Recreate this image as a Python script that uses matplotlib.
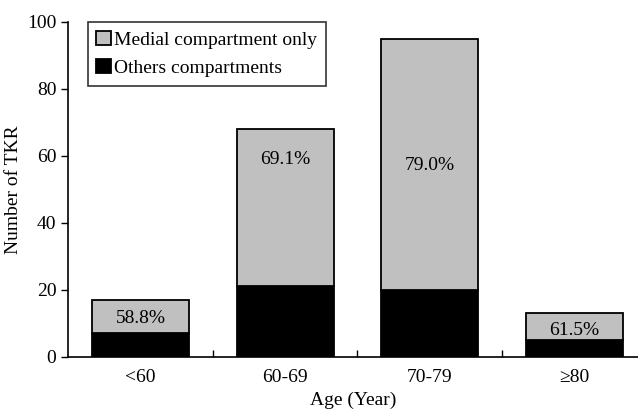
import numpy as np
import matplotlib
matplotlib.use('Agg')
import matplotlib.pyplot as plt

# data
ages = ['<60', '60-69', '70-79', '\u226580']
others = [7, 21, 20, 5]          # black, bottom part
medial = [10, 47, 75, 8]         # grey, stacked on top
pct_labels = ['58.8%', '69.1%', '79.0%', '61.5%']
pct_y = [11.5, 59, 57, 8]

plt.rcParams['font.family'] = ['Liberation Serif', 'DejaVu Serif']

fig = plt.figure(figsize=(6.38, 4.13), dpi=100)
ax = fig.add_axes([0.107, 0.136, 0.893, 0.811])

x = np.arange(len(ages))
w = 0.67
ax.bar(x, others, w, color='black', edgecolor='black', linewidth=1.3,
       label='Others compartments')
ax.bar(x, medial, w, bottom=others, color='#c0c0c0', edgecolor='black',
       linewidth=1.3, label='Medial compartment only')

for i in range(len(ages)):
    ax.text(x[i], pct_y[i], pct_labels[i], ha='center', va='center', fontsize=14)

ax.set_xlim(-0.5, 3.44)
ax.set_ylim(0, 100)
ax.set_yticks([0, 20, 40, 60, 80, 100])
ax.set_xticks(x)
ax.set_xticklabels(ages)
ax.set_xticks([0.5, 1.5, 2.5], minor=True)
ax.tick_params(axis='x', which='major', length=0, pad=9, labelsize=14)
ax.tick_params(axis='x', which='minor', direction='in', length=5, width=1)
ax.tick_params(axis='y', direction='out', length=5, width=1, labelsize=14)

ax.spines['top'].set_visible(False)
ax.spines['right'].set_visible(False)
ax.spines['left'].set_linewidth(1.2)
ax.spines['bottom'].set_linewidth(1.2)

ax.set_xlabel('Age (Year)', fontsize=14, labelpad=4)
ax.set_ylabel('Number of TKR', fontsize=14, labelpad=4)

h, l = ax.get_legend_handles_labels()
leg = ax.legend(h[::-1], l[::-1], loc='upper left', bbox_to_anchor=(0.034, 1.0),
                borderaxespad=0, fancybox=False, edgecolor='black', fontsize=14,
                handlelength=0.75, handleheight=0.75, handletextpad=0.15,
                labelspacing=0.55, borderpad=0.45)
leg.get_frame().set_linewidth(1.2)

plt.savefig('out.png', dpi=100)
